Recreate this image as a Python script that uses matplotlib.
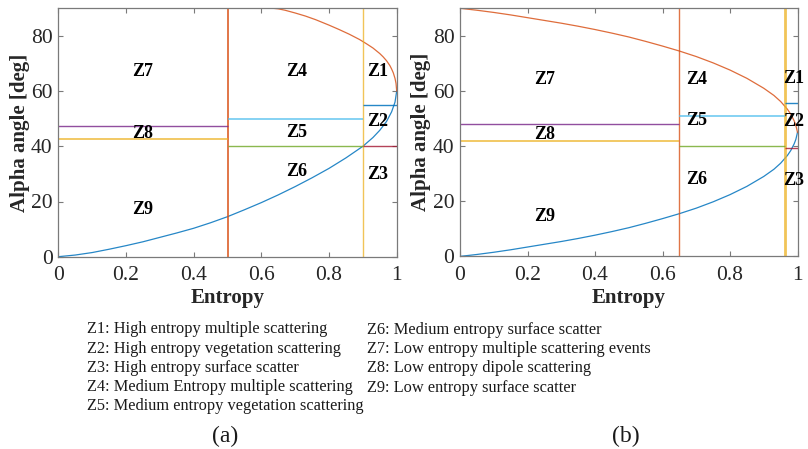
import matplotlib
matplotlib.use("Agg")
import matplotlib.pyplot as plt

plt.rcParams['font.family'] = ['Liberation Serif', 'DejaVu Serif']

# ---- MATLAB-like colour order ----
C_BLUE = '#0072BD'
C_ORANGE = '#D95319'
C_YELLOW = '#EDB120'
C_PURPLE = '#7E2F8E'
C_GREEN = '#77AC30'
C_LIGHTBLUE = '#4DBEEE'
C_RED = '#A2142F'

# ---- panel (a): feasible-region boundaries ----
a_lower_H = [0, 0.05, 0.1, 0.15, 0.2, 0.25, 0.3, 0.35, 0.4, 0.45, 0.5, 0.55, 0.6,
             0.65, 0.7, 0.75, 0.8, 0.85, 0.9, 0.93, 0.95, 0.97, 0.985, 0.995, 1.0]
a_lower_alpha = [0, 0.6, 1.5, 2.7, 4.0, 5.4, 7.0, 8.6, 10.3, 12.3, 14.5, 17.0, 19.6,
                 22.4, 25.4, 28.6, 32.0, 35.8, 40.0, 43.2, 45.8, 49.0, 52.5, 56.0, 60.0]
a_upper_H = [0.635, 0.65, 0.67, 0.7, 0.73, 0.76, 0.8, 0.83, 0.86, 0.89, 0.91, 0.93,
             0.95, 0.96, 0.97, 0.98, 0.985, 0.99, 0.995, 0.998, 1.0]
a_upper_alpha = [90, 89.8, 89.3, 88.3, 87.2, 85.9, 83.9, 82.3, 80.6, 78.7, 77.2, 75.6,
                 73.6, 72.4, 71.0, 69.2, 68.0, 66.6, 64.6, 62.8, 60.0]

# zone boundaries for (a)
a_H_splits = [0.5, 0.9]
a_low_alphas = [47.5, 42.5]
a_mid_alphas = [50.0, 40.0]
a_high_alphas = [55.0, 40.0]

# ---- panel (b) ----
b_H = [0, 0.05, 0.1, 0.15, 0.2, 0.25, 0.3, 0.35, 0.4, 0.45, 0.5, 0.55, 0.6, 0.65,
       0.7, 0.75, 0.8, 0.85, 0.9, 0.93, 0.95, 0.97, 0.98, 0.99, 0.995, 1.0]
b_upper_alpha = [90, 89.3, 88.5, 87.6, 86.6, 85.6, 84.6, 83.5, 82.3, 81.0, 79.6, 78.0,
                 76.3, 74.5, 72.5, 70.2, 67.6, 64.6, 61.0, 58.4, 56.2, 53.4, 51.6,
                 49.2, 47.6, 45.0]
b_lower_alpha = [0, 0.7, 1.5, 2.4, 3.4, 4.4, 5.4, 6.5, 7.7, 9.0, 10.4, 12.0, 13.7,
                 15.5, 17.5, 19.8, 22.4, 25.4, 29.0, 31.6, 33.8, 36.6, 38.4, 40.8,
                 42.4, 45.0]

b_H_splits = [0.65, 0.963]
b_low_alphas = [48.0, 42.0]
b_mid_alphas = [51.0, 40.0]
b_high_alphas = [55.5, 39.3]

# zone label positions (H, alpha) for Z1..Z9
zone_names = ['Z1', 'Z2', 'Z3', 'Z4', 'Z5', 'Z6', 'Z7', 'Z8', 'Z9']
a_label_pos = [(0.945, 67), (0.945, 49), (0.945, 29.7),
               (0.705, 67), (0.705, 45), (0.705, 30.7),
               (0.25, 67), (0.25, 44.5), (0.25, 17)]
b_label_pos = [(0.99, 64.5), (0.99, 48.8), (0.99, 27.7),
               (0.70, 64), (0.70, 49.3), (0.70, 27.8),
               (0.25, 64), (0.25, 44.4), (0.25, 14.3)]

x_ticks = [0, 0.2, 0.4, 0.6, 0.8, 1.0]
x_tick_labels = ['0', '0.2', '0.4', '0.6', '0.8', '1']
y_ticks = [0, 20, 40, 60, 80]

legend_left = ['Z1: High entropy multiple scattering',
               'Z2: High entropy vegetation scattering',
               'Z3: High entropy surface scatter',
               'Z4: Medium Entropy multiple scattering',
               'Z5: Medium entropy vegetation scattering']
legend_right = ['Z6: Medium entropy surface scatter',
                'Z7: Low entropy multiple scattering events',
                'Z8: Low entropy dipole scattering',
                'Z9: Low entropy surface scatter']

W, H = 808, 449
fig = plt.figure(figsize=(W / 100, H / 100), dpi=100)


def box(x0, y0, x1, y1):
    return [x0 / W, 1 - y1 / H, (x1 - x0) / W, (y1 - y0) / H]


ax_a = fig.add_axes(box(58.3, 8.3, 396.7, 256.7))
ax_b = fig.add_axes(box(460.0, 8.3, 797.5, 256.4))

spine_col = '#7a7a7a'
text_col = '#262626'


def draw_panel(ax, lower_H, lower_a, upper_H, upper_a, splits, low, mid, high,
               label_pos, vlw):
    ax.plot(lower_H, lower_a, color=C_BLUE, lw=0.9, alpha=0.85)
    ax.plot(upper_H, upper_a, color=C_ORANGE, lw=0.9, alpha=0.85)
    s1, s2 = splits
    ax.axvline(s1, color=C_ORANGE, lw=vlw[0], alpha=0.8)
    ax.axvline(s2, color=C_YELLOW, lw=vlw[1], alpha=0.75)
    ax.hlines(low[0], 0, s1, color=C_PURPLE, lw=1.0, alpha=0.85)
    ax.hlines(low[1], 0, s1, color=C_YELLOW, lw=1.3, alpha=0.75)
    ax.hlines(mid[0], s1, s2, color=C_LIGHTBLUE, lw=1.2, alpha=0.8)
    ax.hlines(mid[1], s1, s2, color=C_GREEN, lw=1.0, alpha=0.85)
    ax.hlines(high[0], s2, 1, color=C_BLUE, lw=1.0, alpha=0.85)
    ax.hlines(high[1], s2, 1, color=C_RED, lw=1.0, alpha=0.8)
    for name, (hx, ay) in zip(zone_names, label_pos):
        ax.text(hx, ay, name, ha='center', va='center', fontsize=13,
                fontweight='bold', color='black', clip_on=False)
    ax.set_xlim(0, 1)
    ax.set_ylim(0, 90)
    ax.set_xticks(x_ticks)
    ax.set_xticklabels(x_tick_labels)
    ax.set_yticks(y_ticks)
    ax.tick_params(direction='in', length=3.5, width=0.8, color=spine_col,
                   labelsize=15.5, labelcolor=text_col, top=True, right=True)
    ax.tick_params(axis='x', pad=7)
    ax.tick_params(axis='y', pad=4)
    for sp in ax.spines.values():
        sp.set_color(spine_col)
        sp.set_linewidth(0.9)
    ax.set_xlabel('Entropy', fontsize=15, fontweight='bold', color=text_col,
                  labelpad=2)
    ax.set_ylabel('Alpha angle [deg]', fontsize=15, fontweight='bold',
                  color=text_col, labelpad=1)


draw_panel(ax_a, a_lower_H, a_lower_alpha, a_upper_H, a_upper_alpha,
           a_H_splits, a_low_alphas, a_mid_alphas, a_high_alphas,
           a_label_pos, vlw=(1.4, 1.0))
draw_panel(ax_b, b_H, b_lower_alpha, b_H, b_upper_alpha,
           b_H_splits, b_low_alphas, b_mid_alphas, b_high_alphas,
           b_label_pos, vlw=(1.0, 2.0))

# zone descriptions under the panels
left_baselines = [333.3, 352.6, 371.8, 391.0, 410.2]
right_baselines = [334.0, 353.2, 372.4, 391.6]
for txt, yb in zip(legend_left, left_baselines):
    fig.text(87 / W, 1 - yb / H, txt, ha='left', va='baseline',
             fontsize=11.8, color='#1a1a1a')
for txt, yb in zip(legend_right, right_baselines):
    fig.text(367 / W, 1 - yb / H, txt, ha='left', va='baseline',
             fontsize=11.8, color='#1a1a1a')

fig.text(225.5 / W, 1 - 442 / H, '(a)', ha='center', va='baseline',
         fontsize=17, color='#1a1a1a')
fig.text(626 / W, 1 - 442 / H, '(b)', ha='center', va='baseline',
         fontsize=17, color='#1a1a1a')

fig.savefig('out.png', dpi=100, facecolor='white')
